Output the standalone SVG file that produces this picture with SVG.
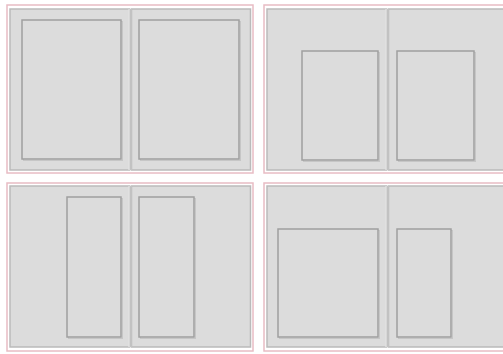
<svg xmlns="http://www.w3.org/2000/svg" width="503" height="354" viewBox="0 0 503 354">
<style>
.frame{fill:#ffffff;stroke:#e8bcc4;stroke-width:1.5}
.page{fill:#dcdcdc;stroke:#bababa;stroke-width:1.5}
.spine{stroke:#c2c2c2;stroke-width:3}
.spinehl{stroke:#ececec;stroke-width:1}
.area{fill:#dcdcdc;stroke:#9f9f9f;stroke-width:1.5}
.areash{fill:none;stroke:#c6c6c6;stroke-width:1}
</style>
<rect width="503" height="354" fill="#ffffff"/>
<g id="spread1">
<rect class="frame" x="7" y="5" width="246" height="168"/>
<rect class="page" x="10" y="9" width="119.5" height="161"/>
<rect class="page" x="131.5" y="9" width="119" height="161"/>
<line class="spine" x1="130.5" y1="9" x2="130.5" y2="170"/>
<line class="spinehl" x1="129" y1="9" x2="129" y2="170"/>
<rect class="areash" x="23.5" y="21.5" width="99" height="139"/>
<rect class="area" x="22" y="20" width="99" height="139"/>
<rect class="areash" x="140.5" y="21.5" width="100" height="139"/>
<rect class="area" x="139" y="20" width="100" height="139"/>
</g>
<g id="spread2">
<rect class="frame" x="264" y="5" width="246" height="168"/>
<rect class="page" x="267" y="9" width="119.5" height="161"/>
<rect class="page" x="388.5" y="9" width="119" height="161"/>
<line class="spine" x1="387.5" y1="9" x2="387.5" y2="170"/>
<line class="spinehl" x1="386" y1="9" x2="386" y2="170"/>
<rect class="areash" x="303.5" y="52.5" width="76" height="109"/>
<rect class="area" x="302" y="51" width="76" height="109"/>
<rect class="areash" x="398.5" y="52.5" width="77" height="109"/>
<rect class="area" x="397" y="51" width="77" height="109"/>
</g>
<g id="spread3">
<rect class="frame" x="7" y="183" width="246" height="168"/>
<rect class="page" x="10" y="186" width="119.5" height="161"/>
<rect class="page" x="131.5" y="186" width="119" height="161"/>
<line class="spine" x1="130.5" y1="186" x2="130.5" y2="347"/>
<line class="spinehl" x1="129" y1="186" x2="129" y2="347"/>
<rect class="areash" x="68.5" y="198.5" width="54" height="140"/>
<rect class="area" x="67" y="197" width="54" height="140"/>
<rect class="areash" x="140.5" y="198.5" width="55" height="140"/>
<rect class="area" x="139" y="197" width="55" height="140"/>
</g>
<g id="spread4">
<rect class="frame" x="264" y="183" width="246" height="168"/>
<rect class="page" x="267" y="186" width="119.5" height="161"/>
<rect class="page" x="388.5" y="186" width="119" height="161"/>
<line class="spine" x1="387.5" y1="186" x2="387.5" y2="347"/>
<line class="spinehl" x1="386" y1="186" x2="386" y2="347"/>
<rect class="areash" x="279.5" y="230.5" width="100" height="108"/>
<rect class="area" x="278" y="229" width="100" height="108"/>
<rect class="areash" x="398.5" y="230.5" width="54" height="108"/>
<rect class="area" x="397" y="229" width="54" height="108"/>
</g>
</svg>
